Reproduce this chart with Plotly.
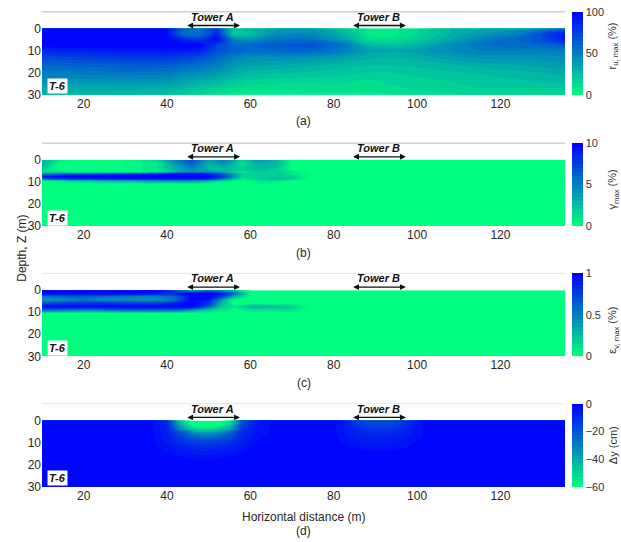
import plotly.graph_objects as go

# ---------------- data ----------------
# Panel (a): r_u,max (%)
xa = [10, 20, 30, 40, 44, 48, 52, 56, 60, 67, 75, 82, 88, 94, 100, 108, 116, 124, 130, 135.5]
da = [0, 2.5, 5, 7.5, 10, 13, 16, 20, 24, 27, 30]
za = [
    [100, 100, 100, 98, 65, 60, 80, 25, 30, 40, 40, 25, 10, 8, 15, 30, 35, 40, 50, 60],
    [100, 100, 100, 95, 55, 55, 85, 20, 25, 45, 45, 30, 10, 8, 15, 30, 40, 50, 70, 92],
    [100, 100, 100, 100, 85, 80, 95, 50, 45, 55, 55, 40, 15, 12, 20, 35, 50, 60, 70, 88],
    [100, 100, 100, 100, 100, 100, 75, 60, 60, 65, 68, 55, 30, 25, 30, 45, 55, 60, 60, 65],
    [85, 88, 90, 92, 90, 88, 70, 62, 60, 60, 60, 50, 38, 35, 38, 45, 50, 50, 50, 52],
    [72, 75, 78, 78, 75, 70, 60, 50, 45, 45, 42, 38, 32, 30, 32, 38, 42, 42, 42, 45],
    [62, 64, 66, 66, 62, 58, 52, 42, 38, 36, 32, 28, 26, 26, 27, 30, 34, 36, 38, 40],
    [52, 52, 54, 52, 48, 44, 40, 32, 28, 26, 24, 22, 20, 20, 22, 24, 26, 28, 30, 32],
    [42, 42, 42, 40, 36, 32, 28, 22, 18, 16, 16, 16, 14, 16, 18, 20, 22, 24, 26, 26],
    [34, 32, 32, 30, 26, 22, 18, 14, 12, 12, 12, 12, 12, 14, 16, 18, 20, 20, 20, 20],
    [30, 28, 26, 24, 20, 16, 12, 8, 6, 6, 8, 8, 8, 10, 12, 14, 16, 16, 16, 16],
]

# Panel (b): gamma_max (%)
xb = [10, 14, 20, 30, 38, 42, 46, 50, 54, 58, 62, 66, 70, 74, 135.5]
db = [0, 2, 4, 5.5, 6.5, 7.5, 8.5, 9.5, 11, 30]
zb = [
    [3, 1, 0, 0, 2, 5, 7, 4, 5, 2, 4, 3, 0, 0, 0],
    [3, 0, 0, 0, 1, 4, 6, 3, 4, 1, 3, 3, 0, 0, 0],
    [2, 0, 0, 0, 1, 3, 5, 3, 3, 2, 3, 2, 0, 0, 0],
    [1, 1, 0, 0, 1, 3, 4, 4, 3, 1, 2, 2, 1, 0, 0],
    [5, 6, 7, 8, 9, 10, 10, 9, 6, 2, 2, 2, 1, 0, 0],
    [9, 10, 10, 10, 10, 10, 10, 10, 7, 2, 2, 2, 2, 0, 0],
    [6, 8, 9, 10, 10, 10, 10, 9, 5, 1, 2, 3, 2, 0, 0],
    [0, 1, 2, 3, 4, 4, 4, 3, 1, 0, 1, 1, 0, 0, 0],
    [0, 0, 0, 0, 0, 0, 0, 0, 0, 0, 0, 0, 0, 0, 0],
    [0, 0, 0, 0, 0, 0, 0, 0, 0, 0, 0, 0, 0, 0, 0],
]

# Panel (c): eps_v,max (%)
xc = [10, 20, 30, 38, 42, 46, 50, 53, 56, 60, 65, 70, 74, 135.5]
dc = [0, 1.5, 3, 4.5, 6, 7.5, 9, 10.5, 30]
zc = [
    [1, 1, 1, 1, 0.7, 0.3, 0.6, 0.4, 0.2, 0, 0, 0, 0, 0],
    [1, 1, 1, 0.9, 0.9, 1, 1, 0.9, 0.6, 0, 0, 0, 0, 0],
    [0.5, 0.6, 0.5, 0.5, 0.6, 1, 1, 0.8, 0.3, 0, 0, 0, 0, 0],
    [0.4, 0.5, 0.4, 0.4, 0.6, 1, 0.9, 0.4, 0, 0, 0, 0, 0, 0],
    [0.7, 0.8, 0.8, 0.8, 0.9, 1, 0.8, 0.3, 0, 0, 0, 0, 0, 0],
    [1, 1, 1, 1, 1, 1, 0.6, 0.2, 0.1, 0.3, 0.3, 0.2, 0, 0],
    [0.6, 0.5, 0.6, 0.6, 0.6, 0.4, 0.2, 0.1, 0, 0.1, 0.1, 0.1, 0, 0],
    [0, 0, 0, 0, 0, 0, 0, 0, 0, 0, 0, 0, 0, 0],
    [0, 0, 0, 0, 0, 0, 0, 0, 0, 0, 0, 0, 0, 0],
]

# Panel (d): settlement dy (cm)
xd = [10, 36, 40, 43, 46, 49, 52, 55, 58, 62, 78, 82, 85, 88, 91, 94, 97, 100, 104, 135.5]
dd = [0, 2, 4, 6, 9, 12, 15, 18, 30]
zd = [
    [0, 0, -8, -45, -62, -64, -63, -55, -18, -2, 0, -3, -12, -16, -17, -16, -12, -3, 0, 0],
    [0, -1, -8, -40, -60, -63, -61, -50, -16, -3, 0, -4, -11, -15, -16, -15, -11, -4, 0, 0],
    [0, -1, -8, -28, -45, -52, -48, -36, -13, -3, 0, -4, -9, -12, -13, -12, -9, -4, 0, 0],
    [0, -1, -7, -18, -28, -33, -30, -22, -10, -3, 0, -4, -7, -9, -9, -9, -7, -4, 0, 0],
    [0, -1, -6, -12, -16, -18, -17, -14, -8, -2, 0, -3, -5, -6, -6, -6, -5, -3, 0, 0],
    [0, -1, -4, -7, -9, -10, -9, -8, -5, -1, 0, -1, -3, -4, -4, -4, -3, -1, 0, 0],
    [0, 0, -2, -4, -5, -6, -5, -4, -2, 0, 0, 0, -1, -1, -1, -1, -1, 0, 0, 0],
    [0, 0, 0, -1, -2, -2, -2, -1, 0, 0, 0, 0, 0, 0, 0, 0, 0, 0, 0, 0],
    [0, 0, 0, 0, 0, 0, 0, 0, 0, 0, 0, 0, 0, 0, 0, 0, 0, 0, 0, 0],
]

x_ticks = [20, 40, 60, 80, 100, 120]
depth_ticks = [0, 10, 20, 30]
towers = [("Tower A", 44.5, 57.5), ("Tower B", 84.3, 97.3)]
panel_labels = ["(a)", "(b)", "(c)", "(d)"]
cbar_titles = ["r<sub>u, max</sub> (%)", "γ<sub>max</sub> (%)",
               "ε<sub>v, max</sub> (%)", "Δy (cm)"]
cbar_ticks = [[0, 50, 100], [0, 5, 10], [0, 0.5, 1], [0, -20, -40, -60]]
zranges = [(0, 100), (0, 10), (0, 1), (-60, 0)]
zsteps = [5, 0.5, 0.05, 2.5]

# ---------------- layout geometry (pixels) ----------------
W, H = 621, 542
px_left, px_right = 42, 565
panel_px = [(12, 96), (145, 229), (277, 361), (409, 493)]
ytop = -7.6
cb_title_y = [47, 192, 335, 451]
label_y = [123, 256, 388, 538]

FONT = "Liberation Sans, Arial, sans-serif"
winter_r = [[0, "rgb(0,255,128)"], [1, "rgb(0,0,255)"]]

fig = go.Figure()
datasets = [(xa, da, za), (xb, db, zb), (xc, dc, zc), (xd, dd, zd)]

layout = dict(
    width=W, height=H, margin=dict(l=0, r=0, t=0, b=0),
    paper_bgcolor="white", plot_bgcolor="white",
    font=dict(family=FONT, size=12, color="#262626"),
    showlegend=False,
)
annotations = []
shapes = []

for i, ((xx, dpt, zz), (top, bot)) in enumerate(zip(datasets, panel_px)):
    n = "" if i == 0 else str(i + 1)
    xname, yname = "x" + n, "y" + n
    y0 = 1 - bot / H
    y1 = 1 - top / H
    zmin, zmax = zranges[i]
    fig.add_trace(go.Contour(
        x=xx, y=dpt, z=zz, xaxis=xname, yaxis=yname,
        colorscale=winter_r, zmin=zmin, zmax=zmax,
        autocontour=False,
        contours=dict(start=zmin, end=zmax, size=zsteps[i], coloring="fill", showlines=False),
        line=dict(width=0),
        colorbar=dict(
            x=572 / W, xanchor="left", y=(y0 + y1) / 2, yanchor="middle",
            len=(bot - top) / H, lenmode="fraction", thickness=11,
            outlinewidth=0, tickvals=cbar_ticks[i], ticks="",
            tickfont=dict(size=11, color="#333333", family=FONT), xpad=0, ypad=0,
        ),
        hoverinfo="skip",
    ))
    layout["xaxis" + n] = dict(
        domain=[px_left / W, px_right / W], range=[10, 135.5], anchor=yname,
        tickvals=x_ticks, ticks="", showgrid=False, zeroline=False,
        showline=False, tickfont=dict(size=12, color="#262626"),
    )
    layout["yaxis" + n] = dict(
        domain=[y0, y1], range=[30, ytop], anchor=xname,
        tickvals=depth_ticks, ticks="", showgrid=False, zeroline=False,
        showline=False, tickfont=dict(size=12, color="#262626"),
    )
    # top box line
    shapes.append(dict(type="line", xref="paper", yref="paper",
                       x0=px_left / W, x1=px_right / W, y0=y1, y1=y1,
                       line=dict(color="#b8b8b8" if i < 2 else "#e6e6e6", width=1)))
    # towers
    for name, xs, xe in towers:
        annotations.append(dict(
            x=xe, y=-1.4, ax=xs, ay=-1.4, xref=xname, yref=yname, axref=xname, ayref=yname,
            text="", showarrow=True, arrowhead=2, startarrowhead=2, arrowside="end+start",
            arrowsize=0.9, startarrowsize=0.9, arrowwidth=1.3, arrowcolor="#111111"))
        annotations.append(dict(
            x=(xs + xe) / 2, y=-1.8, xref=xname, yref=yname, yanchor="bottom",
            text="<b><i>%s</i></b>" % name, showarrow=False,
            font=dict(size=11, color="#111111", family=FONT)))
    # T-6 label
    annotations.append(dict(
        x=11.3, y=29.8, xref=xname, yref=yname, xanchor="left", yanchor="bottom",
        text="<b><i>T-6</i></b>", showarrow=False, bgcolor="white", borderpad=1,
        font=dict(size=11, color="#111111", family=FONT)))
    # panel label
    annotations.append(dict(
        x=(px_left + px_right) / 2 / W, y=1 - label_y[i] / H, xref="paper", yref="paper",
        text=panel_labels[i], showarrow=False, yanchor="middle",
        font=dict(size=12, color="#262626")))
    # colorbar title
    annotations.append(dict(
        x=613 / W, y=1 - cb_title_y[i] / H, xref="paper", yref="paper",
        xanchor="center", yanchor="middle",
        text=cbar_titles[i], textangle=-90, showarrow=False,
        font=dict(size=11, color="#333333")))

annotations.append(dict(
    x=(px_left + px_right) / 2 / W, y=1 - 524 / H, xref="paper", yref="paper",
    text="Horizontal distance (m)", showarrow=False, yanchor="middle",
    font=dict(size=12, color="#262626")))
annotations.append(dict(
    x=13 / W, y=1 - 252 / H, xref="paper", yref="paper",
    text="Depth, Z (m)", textangle=-90, showarrow=False,
    font=dict(size=12, color="#262626")))

layout["annotations"] = annotations
layout["shapes"] = shapes
fig.update_layout(**layout)
fig.write_html("out.html")
